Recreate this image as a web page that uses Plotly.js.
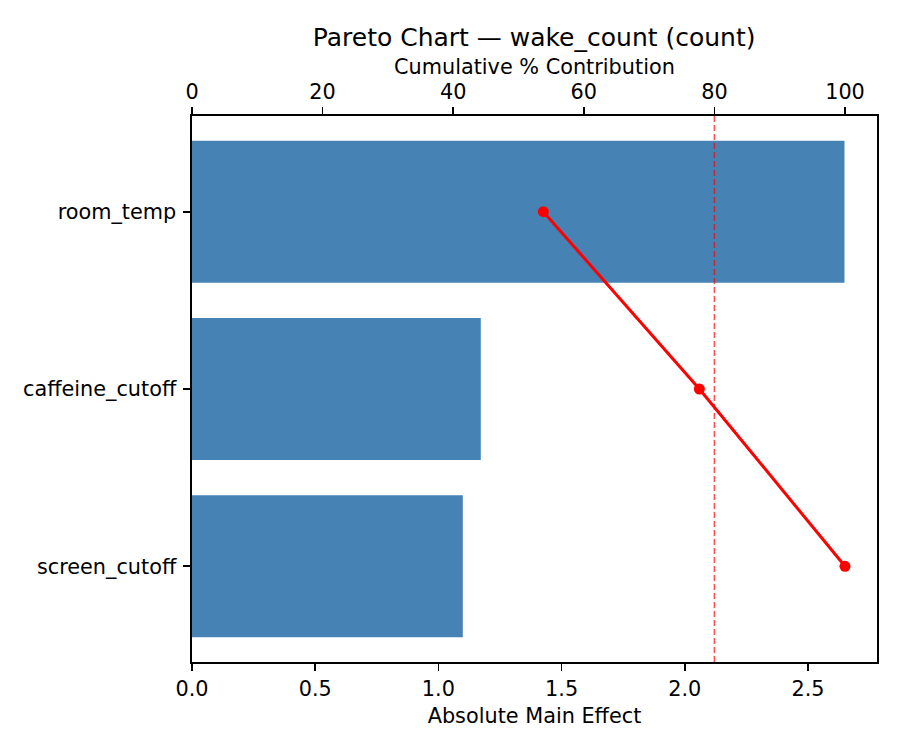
<!DOCTYPE html>
<html>
<head>
<meta charset="utf-8">
<script src="https://cdn.plot.ly/plotly-3.0.1.min.js"></script>
<style>html,body{margin:0;padding:0;background:#fff;}</style>
</head>
<body>
<div id="chart" style="width:900px;height:750px;"></div>
<script>
const factors = ["room_temp", "caffeine_cutoff", "screen_cutoff"];
const effects = [2.648, 1.172, 1.099];
const cumulativePct = [53.8, 77.7, 100.0];
const threshold = 80;

const font = {family: "DejaVu Sans, sans-serif", size: 20.8, color: "#000"};

const traces = [
  {
    type: "bar", orientation: "h",
    x: effects, y: factors,
    xaxis: "x", yaxis: "y",
    marker: {color: "#4682B4"},
    hoverinfo: "x+y"
  },
  {
    type: "scatter", mode: "lines+markers",
    x: cumulativePct, y: factors,
    xaxis: "x2", yaxis: "y",
    line: {color: "red", width: 3},
    marker: {color: "red", size: 11}
  }
];

const layout = {
  width: 900, height: 750,
  margin: {l: 192, r: 23, t: 116, b: 88},
  paper_bgcolor: "#fff", plot_bgcolor: "#fff",
  showlegend: false,
  font: font,
  bargap: 0.2,
  title: {text: "Pareto Chart — wake_count (count)", font: {family: font.family, size: 25, color: "#000"}, x: 0.5935, xanchor: "center", y: 0.951, yanchor: "middle"},
  xaxis: {
    range: [0, 2.78], dtick: 0.5, tick0: 0, tickformat: ".1f",
    showgrid: false, zeroline: false,
    showline: true, linecolor: "#000", linewidth: 1.6,
    ticks: "outside", ticklen: 7, tickwidth: 1.6, tickcolor: "#000",
    title: {text: "Absolute Main Effect", font: font, standoff: 9},
    automargin: false
  },
  xaxis2: {
    overlaying: "x", side: "top",
    range: [0, 104.9], dtick: 20, tick0: 0,
    showgrid: false, zeroline: false,
    showline: true, linecolor: "#000", linewidth: 1.6,
    ticks: "outside", ticklen: 7, tickwidth: 1.6, tickcolor: "#000",
    automargin: false
  },
  yaxis: {
    type: "category", categoryorder: "array", categoryarray: factors,
    range: [2.54, -0.54],
    showgrid: false, zeroline: false,
    showline: true, mirror: true, linecolor: "#000", linewidth: 1.6,
    ticks: "outside", ticklen: 7, tickwidth: 1.6, tickcolor: "#000",
    ticklabelstandoff: 3,
    automargin: false
  },
  annotations: [{
    text: "Cumulative % Contribution",
    xref: "paper", yref: "paper", x: 0.5, y: 1,
    xanchor: "center", yanchor: "middle", yshift: 49,
    showarrow: false, font: font
  }],
  shapes: [{
    type: "line", xref: "x2", yref: "paper",
    x0: threshold, x1: threshold, y0: 0, y1: 1,
    line: {color: "rgba(255,0,0,0.7)", width: 1.5, dash: "6px,3px"}
  }]
};

Plotly.newPlot("chart", traces, layout, {displayModeBar: false, staticPlot: true});
</script>
</body>
</html>
